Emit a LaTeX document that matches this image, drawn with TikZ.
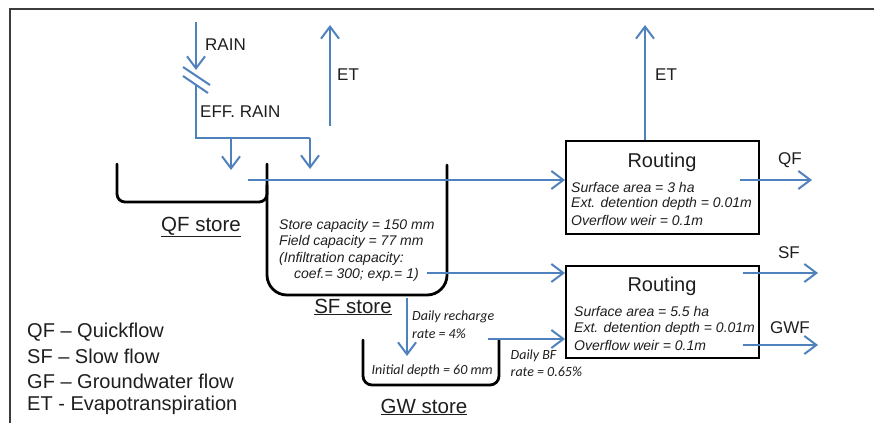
\documentclass[tikz,border=0pt]{standalone}
\usepackage{fontspec}
\setmainfont{Liberation Sans}
\newfontfamily\calfont{Carlito}
\usetikzlibrary{arrows.meta}
\definecolor{flowblue}{RGB}{79,129,189}
\definecolor{framegray}{RGB}{60,60,60}
\definecolor{txt}{RGB}{30,30,30}
\begin{document}
\begin{tikzpicture}[x=1pt,y=-1pt,
  every node/.style={text=txt},
  flow/.style={draw=flowblue,line width=2pt,-{Straight Barb[length=12pt,width=18pt,line width=2pt]}},
  flowline/.style={draw=flowblue,line width=2pt},
  store/.style={draw=black,line width=2.8pt,line cap=round},
  routbox/.style={draw=black,line width=2pt,minimum width=193pt,inner sep=0pt},
  lbl/.style={font=\fontsize{17}{20}\selectfont,inner sep=0pt,anchor=west},
  storelbl/.style={font=\fontsize{20.5}{23}\selectfont,inner sep=0pt},
  legend/.style={font=\fontsize{20}{23}\selectfont,inner sep=0pt,anchor=west},
  title/.style={font=\fontsize{20}{24}\selectfont,inner sep=0pt},
  prm/.style={font=\fontsize{14}{17}\selectfont\itshape,inner sep=0pt,anchor=west},
  small/.style={font=\calfont\fontsize{14}{17}\selectfont\itshape,inner sep=0pt,anchor=west}
]
\useasboundingbox (0,0) rectangle (874,423);
% frame
\draw[framegray,line width=1.4pt] (10,423) -- (10,9) -- (874,9);

% routing boxes
\node[routbox,minimum height=93pt] (r1) at (662.5,187.5) {};
\node[routbox,minimum height=92pt] (r2) at (662.5,312) {};
\node[title] (r1t) at (662,162) {Routing};
\node[title] (r2t) at (662,286) {Routing};
\node[prm] (r1a) at (571,187.5) {Surface area = 3 ha};
\node[prm] (r1b) at (571,204) {Ext. detention depth = 0.01m};
\node[prm] (r1c) at (571,220.5) {Overflow weir = 0.1m};
\node[prm] (r2a) at (574,311.5) {Surface area = 5.5 ha};
\node[prm] (r2b) at (574,328.5) {Ext. detention depth = 0.01m};
\node[prm] (r2c) at (574,345) {Overflow weir = 0.1m};

% rain
\coordinate (rainTop) at (196,22);
\coordinate (rainTip) at (196,70);
\coordinate (effTop) at (196,85);
\coordinate (effCorner) at (196,138);
\coordinate (effEnd) at (310,138);
\coordinate (qfIn) at (231,138);
\coordinate (qfInTip) at (231,170);
\coordinate (sfInTip) at (310,169);
\draw[flow] (rainTop) -- (rainTip);
\draw[flowline] (183,67) -- (210,85);
\draw[flowline] (183,76) -- (208,93);
\draw[flowline] (effTop) -- (effCorner) -- (effEnd);
\draw[flow] (qfIn) -- (qfInTip);
\draw[flow] (effEnd) -- (sfInTip);
\node[lbl] (rain) at (205,45) {RAIN};
\node[lbl] (effrain) at (200,112) {EFF. RAIN};

% ET
\coordinate (et1a) at (330,126);
\coordinate (et1b) at (330,25);
\coordinate (et2a) at (645,125);
\coordinate (et2b) at (645,25);
\draw[flow] (et1a) -- (et1b);
\draw[flow] (r1.north -| et2a) -- (et2b);
\node[lbl] (et1) at (337,75) {ET};
\node[lbl] (et2) at (655,75) {ET};

% stores
\draw[store,rounded corners=8pt] (117,164) -- (117,202) -- (267,202) -- (267,185);
\draw[store,rounded corners=20pt] (267,164) -- (267,295) -- (447,295) -- (447,165);
\draw[store,rounded corners=9pt] (363,340) -- (363,385) -- (499,385) -- (499,340);
\node[storelbl] (qfs) at (201,227) {\underline{QF store}};
\node[storelbl] (sfs) at (353,307) {\underline{SF store}};
\node[storelbl] (gws) at (424,407) {\underline{GW store}};

% SF store text
\node[prm] (s1) at (279,226) {Store capacity = 150 mm};
\node[prm] (s2) at (279,242) {Field capacity = 77 mm};
\node[prm] (s3) at (279,258.5) {(Infiltration capacity:};
\node[prm] (s4) at (294,275) {coef.= 300; exp.= 1)};

% flows to routing
\coordinate (qfStart) at (248,180);
\coordinate (sfStart) at (427,273);
\coordinate (gwStart) at (488,339);
\draw[flow] (qfStart) -- (qfStart -| r1.west);
\draw[flow] (sfStart) -- (sfStart -| r2.west);
\draw[flow] (gwStart) -- (gwStart -| r2.west);

% recharge
\coordinate (rchTop) at (407,298);
\coordinate (rchTip) at (407,356);
\draw[flow] (rchTop) -- (rchTip);
\node[small] (rch1) at (412,317) {Daily recharge};
\node[small] (rch2) at (412,333.5) {rate = 4\%};
\node[small] (gwd) at (371.5,371) {Initial depth = 60 mm};
\node[small] (bf1) at (510.5,355.5) {Daily BF};
\node[small] (bf2) at (510.5,372) {rate = 0.65\%};

% outflows
\coordinate (qfOutA) at (740,180);
\coordinate (qfOutB) at (812,180);
\coordinate (sfOutA) at (743,273);
\coordinate (sfOutB) at (818,273);
\coordinate (gwOutA) at (743,345);
\coordinate (gwOutB) at (818,345);
\draw[flow] (qfOutA) -- (qfOutB);
\draw[flow] (sfOutA) -- (sfOutB);
\draw[flow] (gwOutA) -- (gwOutB);
\node[lbl,anchor=center] (qfl) at (790,160) {QF};
\node[lbl,anchor=center] (sfl) at (789,253) {SF};
\node[lbl,anchor=center] (gwfl) at (790,328) {GWF};

% legend
\node[legend] (l1) at (27,332) {QF – Quickflow};
\node[legend] (l2) at (27,356.5) {SF – Slow flow};
\node[legend] (l3) at (27,381) {GF – Groundwater flow};
\node[legend] (l4) at (27,405.5) {ET - Evapotranspiration};
\end{tikzpicture}
\end{document}
